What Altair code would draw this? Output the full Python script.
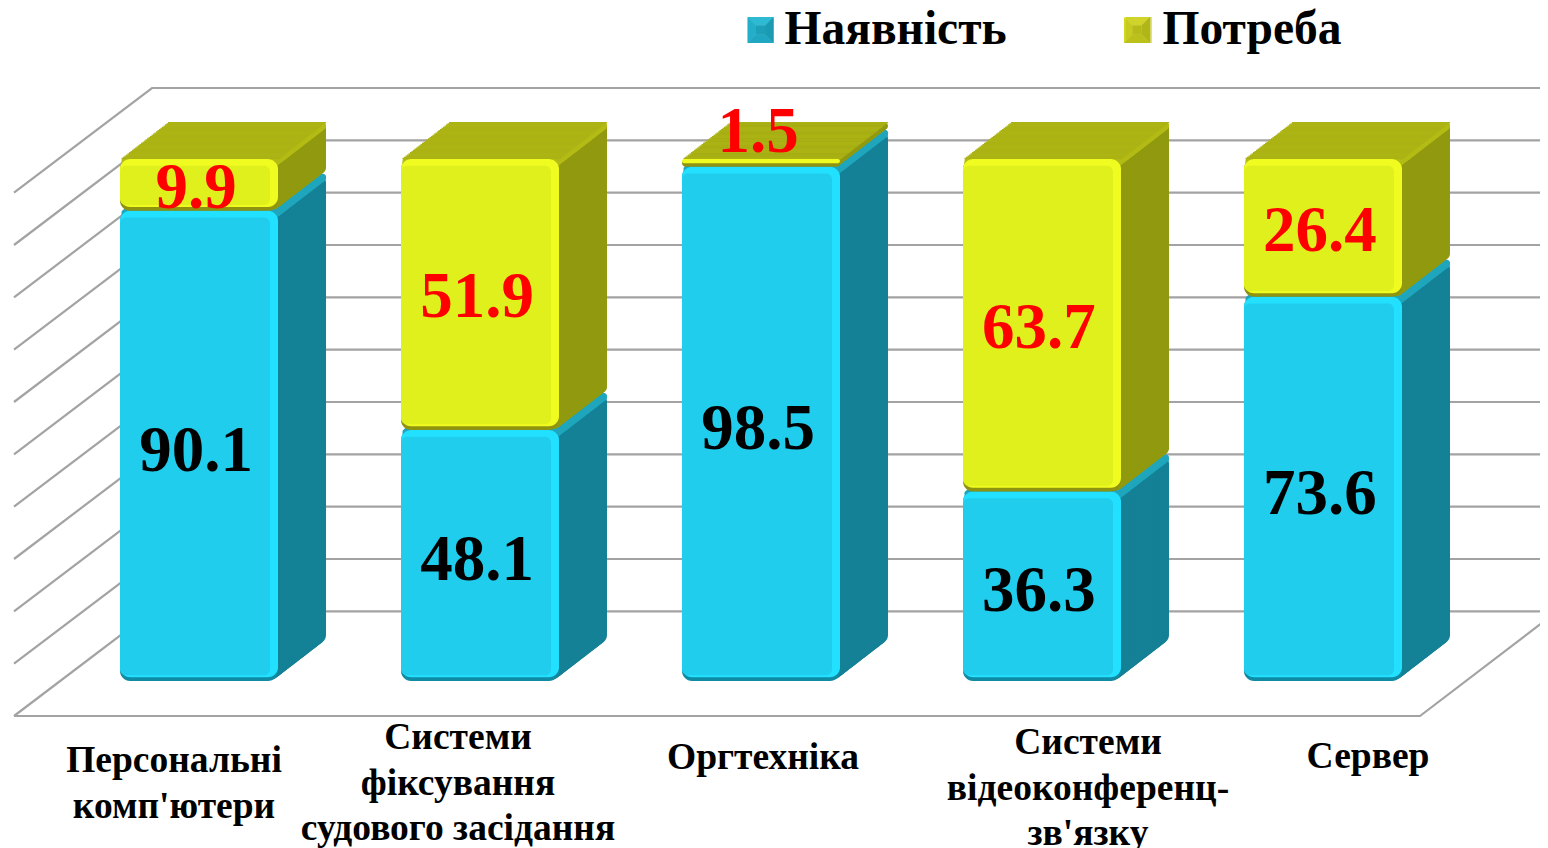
import altair as alt
import pandas as pd

categories = ["Персональні\nкомп'ютери", "Системи\nфіксування\nсудового засідання", "Оргтехніка",
              "Системи\nвідеоконференц-\nзв'язку", "Сервер"]
have = [90.1, 48.1, 98.5, 36.3, 73.6]
need = [9.9, 51.9, 1.5, 63.7, 26.4]
series = ["Наявність", "Потреба"]
grid_levels = [0, 10, 20, 30, 40, 50, 60, 70, 80, 90, 100]

W, H = 1532, 840
FONT = "Liberation Serif"
DEPTH_X, DEPTH_Y, STEP = 48, 37, 1.5
CYAN = dict(main="#20cdec", hi="#22e0ff", lo="#0f8ba3", side="#148196", strip="#1fa6bd")
YEL = dict(main="#e0f01c", hi="#f0fb20", lo="#8f9410", side="#919a0f", strip="#b3bb15", top="#abb314")

rows_c, rows_y = [], []
for c, a, b in zip(categories, have, need):
    rows_c.append(dict(cat=c, start=0, end=a, val=a))
    rows_y.append(dict(cat=c, start=a, end=a + b, val=b))
dc, dy = pd.DataFrame(rows_c), pd.DataFrame(rows_y)
for d in (dc, dy):
    d["mid"] = (d.start + d.end) / 2
    d["hi_b"] = d.start + 0.7
    d["in_b"] = d.start + 1.1
    d["in_t"] = d.end - 1.3
    d["cap"] = d.end - 0.25
    d["strip"] = d.end - 1.5

x = alt.X("cat:N", sort=categories, axis=None,
          scale=alt.Scale(domain=categories, range=[50.5, 1455.5], paddingInner=0.4377, paddingOuter=0.2189))
ysc = alt.Scale(domain=[0, 100], range=[673, 151])


def Y(f):
    return alt.Y(f"{f}:Q", scale=ysc, axis=None)


def Y2(f):
    return alt.Y2(f"{f}:Q")


def bar(d, top, bottom, color, **kw):
    return alt.Chart(d).mark_bar(color=color, **kw).encode(x=x, y=Y(top), y2=Y2(bottom))


steps = [STEP * i for i in range(int(DEPTH_X / STEP), 0, -1)]
off = lambda k: dict(xOffset=k, yOffset=-k * DEPTH_Y / DEPTH_X, y2Offset=-k * DEPTH_Y / DEPTH_X)

bars = []
for k in steps:
    bars.append(bar(dc, "end", "start", CYAN["side"], cornerRadius=9, **off(k)))
for k in steps:
    bars.append(bar(dc, "end", "strip", CYAN["strip"], cornerRadius=3, **off(k)))
for k in steps:
    bars.append(bar(dy, "end", "start", YEL["side"], cornerRadius=6, **off(k)))
for k in steps:
    bars.append(bar(dy[dy.val > 3], "end", "strip", YEL["strip"], cornerRadius=3, **off(k)))
for k in steps:
    bars.append(bar(dy, "end", "cap", YEL["top"], **off(k)))

for d, c in ((dc, CYAN), (dy, YEL)):
    bars.append(bar(d, "end", "start", c["lo"], cornerRadius=10))
    bars.append(bar(d, "end", "hi_b", c["hi"], cornerRadius=10))
    bars.append(bar(d[d.val > 3], "in_t", "in_b", c["main"], cornerRadius=6, width=150, xOffset=-4))

# value labels
num = dict(font=FONT, fontWeight="bold", fontSize=65, baseline="middle", dx=-3)
txt = lambda d, color, dy_, **kw: alt.Chart(d).mark_text(color=color, dy=dy_, **num, **kw).encode(
    x=x, y=Y("mid"), text=alt.Text("val:Q", format=".1f"))
bars.append(txt(dc, "#000000", 5))
bars.append(txt(dy[dy.val > 3], "#ff0000", 3))
bars.append(txt(dy[dy.val <= 3], "#ff0000", -31))

# category labels
label_layout = [(-25, 772), (-22, 749), (2, 769), (46, 754), (45, 768)]
for c, (ddx, base) in zip(categories, label_layout):
    bars.append(
        alt.Chart(pd.DataFrame({"cat": [c]})).mark_text(
            font=FONT, fontWeight="bold", fontSize=37.5, lineBreak="\n", lineHeight=45.5,
            align="center", baseline="alphabetic", dx=ddx, color="#000000"
        ).encode(x=x, y=alt.value(base - 8), text="cat:N")
    )

# legend
legend_src = alt.Chart(pd.DataFrame({"s": series})).mark_point(filled=True, size=0).encode(
    x=alt.value(0), y=alt.value(0),
    color=alt.Color("s:N", sort=series,
                    scale=alt.Scale(domain=series, range=["#1fa8c2", "#c0c61c"]),
                    legend=alt.Legend(title=None, orient="none", legendX=729, legendY=-3, direction="horizontal",
                                      symbolType="square", symbolSize=676, symbolStrokeWidth=0,
                                      labelFont=FONT, labelFontWeight="bold", labelFontSize=47.5,
                                      labelColor="#000000", labelOffset=0, columnPadding=108,
                                      padding=0, labelLimit=500, symbolOffset=0, clipHeight=50)),
)
bars.append(legend_src)

# bevelled legend icons
ICON = 26
tri = {"top": "M-1,-1L1,-1L0.35,-0.35L-0.35,-0.35Z", "bottom": "M-1,1L1,1L0.35,0.35L-0.35,0.35Z",
       "left": "M-1,-1L-1,1L-0.35,0.35L-0.35,-0.35Z", "right": "M1,-1L1,1L0.35,0.35L0.35,-0.35Z",
       "mid": "M-0.35,-0.35L0.35,-0.35L0.35,0.35L-0.35,0.35Z"}
icon_cols = [
    (752.5, dict(top="#4fe3f7", left="#2cc0da", right="#127c92", bottom="#1fa2bb", mid="#178ea6")),
    (1129, dict(top="#f0f24a", left="#d3d822", right="#8a8c10", bottom="#b0b415", mid="#9ea012")),
]
for ix, cols in icon_cols:
    for part, col in cols.items():
        bars.append(alt.Chart(pd.DataFrame({"p": [part]})).mark_point(
            shape=tri[part], filled=True, size=ICON * ICON, color=col, opacity=1
        ).encode(x=alt.value(ix), y=alt.value(22)))

# 3D walls and floor
wall_rows = []
for v in grid_levels:
    wall_rows += [dict(g=v, o=0, px=6, lv=v - 20), dict(g=v, o=1, px=144, lv=v), dict(g=v, o=2, px=W, lv=v)]
wall_rows += [dict(g=-1, o=0, px=6, lv=-20), dict(g=-1, o=1, px=1412, lv=-20), dict(g=-1, o=2, px=1549, lv=0)]
walls = alt.Chart(pd.DataFrame(wall_rows)).mark_line(color="#a3a3a3", strokeWidth=2.2, clip=True).encode(
    x=alt.X("px:Q", axis=None, scale=alt.Scale(domain=[0, W], range=[0, W])),
    y=alt.Y("lv:Q", axis=None, scale=alt.Scale(domain=[-20, 100], range=[708, 80])),
    detail="g:N", order="o:Q",
)

chart = alt.layer(walls, alt.layer(*bars)).resolve_scale(x="independent", y="independent").properties(
    width=W, height=H, padding=0, autosize=alt.AutoSizeParams(type="none")
).configure_view(stroke=None)

chart.save("out.html", embed_options={"renderer": "svg", "actions": False})
